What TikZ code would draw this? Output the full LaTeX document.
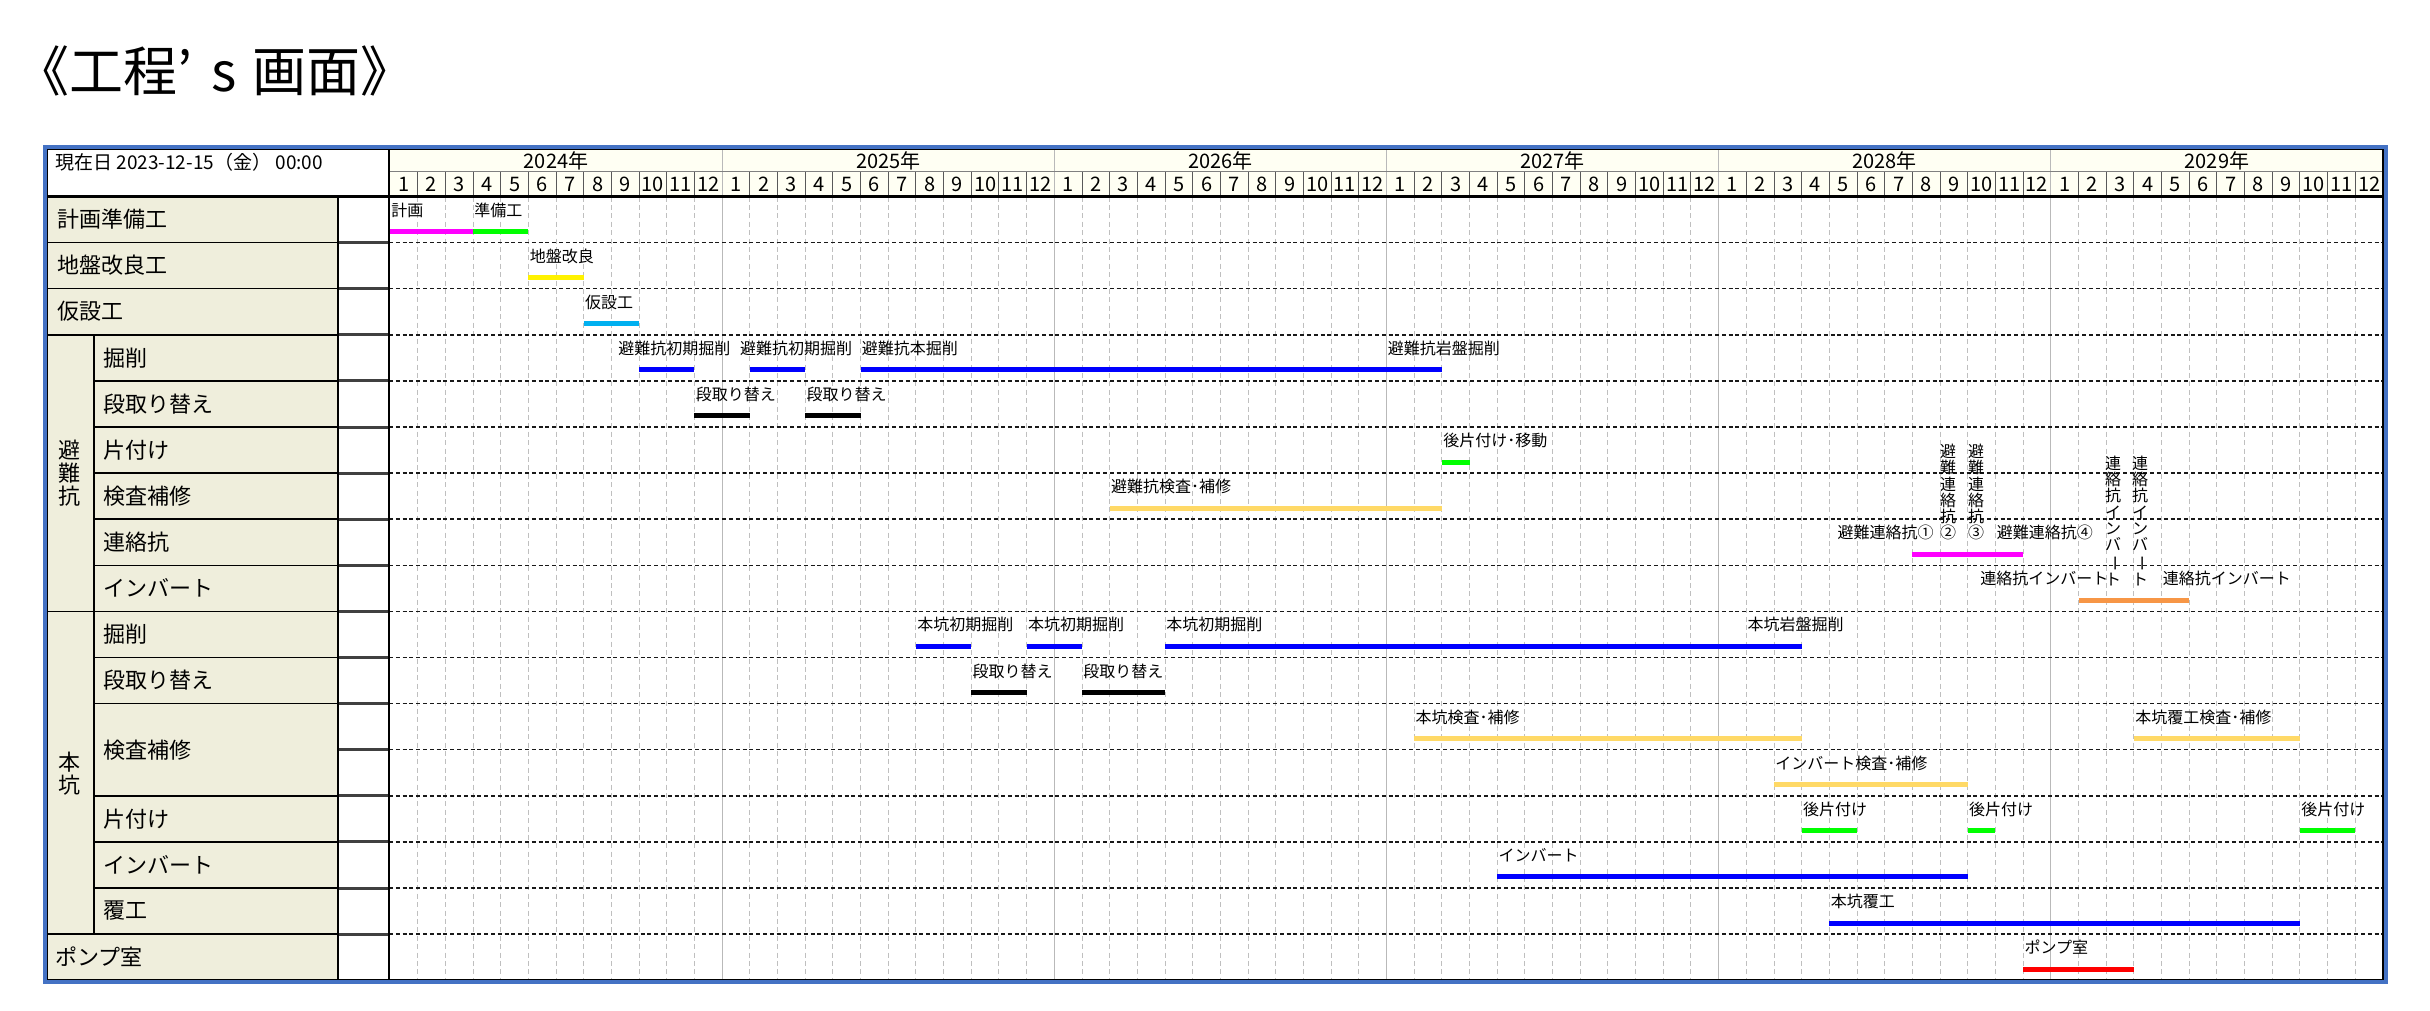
\documentclass[tikz,border=0pt]{standalone}
\usepackage{fontspec}
\setmainfont{Noto Sans CJK JP}
\usepackage{graphicx}
\usepackage{tikz}
\definecolor{framebl}{RGB}{68,114,196}
\definecolor{labelbg}{RGB}{239,238,220}
\definecolor{headbg}{RGB}{255,255,243}
\definecolor{barcyan}{RGB}{0,176,240}
\definecolor{bargold}{RGB}{255,217,102}
\definecolor{barorange}{RGB}{247,150,70}
\definecolor{barlime}{RGB}{0,255,0}
\definecolor{barblue}{RGB}{0,0,255}
\definecolor{barmag}{RGB}{255,0,255}
\newcommand{\vbar}{\rotatebox[origin=c]{-90}{ー}}

\begin{document}
\begin{tikzpicture}[x=0.5pt,y=-0.5pt,
  titlelab/.style={anchor=west,inner sep=0pt,font=\fontsize{27}{30}\selectfont},
  rowlab/.style={anchor=west,inner sep=0pt,font=\fontsize{11}{11.65}\selectfont},
  grouplab/.style={inner sep=0pt,align=center,font=\fontsize{11}{11.65}\selectfont},
  tasklab/.style={anchor=west,inner sep=0pt,font=\fontsize{8}{8.15}\selectfont},
  vlab/.style={anchor=south,inner sep=0pt,align=center,font=\fontsize{8}{8.15}\selectfont},
  headlab/.style={inner sep=0pt,font=\fontsize{10}{11}\selectfont},
  taskbar/.style={line width=2.5pt},
  monthline/.style={gray!50,line width=0.5pt,dash pattern=on 2.5pt off 1.7pt},
  yearline/.style={gray!55,line width=0.6pt},
  rowline/.style={black!90,line width=0.75pt,dash pattern=on 2pt off 1.4pt},
  cellline/.style={black,line width=0.75pt},
  stubline/.style={black!75,line width=1.5pt}]
\useasboundingbox (0,0) rectangle (2430,1011);
\node[titlelab] (title) at (15,71) {《工程’\hspace{0.35em}s\hspace{0.3em}画面》};
\fill[labelbg] (47,196.5) rectangle (338,980);
\fill[white] (338,196.5) rectangle (389,980);
\fill[white] (47,149) rectangle (389,196.5);
\fill[headbg] (389,149) rectangle (2383,196.5);
\foreach \m in {1,...,71}
  \draw[monthline] ({390+27.68*\m},196.5) -- ({390+27.68*\m},980);
\foreach \m in {1,...,71}
  \draw[gray!70!black,line width=0.5pt] ({390+27.68*\m},171.7) -- ({390+27.68*\m},196.5);
\foreach \yr in {1,...,5}
  \draw[yearline] ({390+332.16*\yr},149) -- ({390+332.16*\yr},980);
\draw[gray,line width=0.6pt] (389,171.7) -- (2383,171.7);
\foreach \r in {1,...,16}
  \draw[rowline] (389,{196.5+46.1*\r}) -- (2383,{196.5+46.1*\r});
\foreach \yr [count=\i from 0] in {2024,...,2029}
  \node[headlab] (y\yr) at ({390+332.16*(\i+0.5)},160.5) {\yr 年};
\foreach \m in {0,...,71}{
  \pgfmathtruncatemacro\mn{mod(\m,12)+1}
  \node[headlab] (m\m) at ({390+27.68*(\m+0.5)},184.5) {\mn};
}
\node[headlab,anchor=west,font=\fontsize{9.5}{10}\selectfont] (today) at (55,162.7) {現在日 2023-12-15（金） 00:00};
\foreach \r in {1,2,3,9,16}
  \draw[cellline] (47,{196.5+46.1*\r}) -- (338,{196.5+46.1*\r});
\foreach \r in {4,5,6,7,8,10,11,13,14,15}
  \draw[cellline] (94,{196.5+46.1*\r}) -- (338,{196.5+46.1*\r});
\foreach \r in {1,...,17}
  \draw[stubline] (338,{196.5+46.1*\r}) -- (389,{196.5+46.1*\r});
\draw[cellline] (94,334.8) -- (94,934.1);
\draw[cellline] (338,196.5) -- (338,980);
\draw[black,line width=1.1pt] (47,196.5) -- (2383,196.5);
\draw[black,line width=1pt] (389,149) -- (389,980);
\node[rowlab] (r0) at (57,219.5) {計画準備工};
\node[rowlab] (r1) at (57,265.6) {地盤改良工};
\node[rowlab] (r2) at (57,311.7) {仮設工};
\node[grouplab] (g1) at (69,473.3) {避\\難\\抗};
\foreach \r/\t in {3/掘削,4/段取り替え,5/片付け,6/検査補修,7/連絡抗,8/インバート,9/掘削,10/段取り替え,13/片付け,14/インバート,15/覆工}
  \node[rowlab] (s\r) at (103,{219.5+46.1*\r}) {\t};
\node[rowlab] (s11) at (103,749.7) {検査補修};
\node[grouplab] (g2) at (69,773.5) {本\\坑};
\node[rowlab] (r16) at (55,957.1) {ポンプ室};
\foreach \r/\a/\b/\c in {0/0/3/barmag,0/3/5/barlime,1/5/7/yellow,2/7/9/barcyan,
    3/9/11/barblue,3/13/15/barblue,3/17/38/barblue,4/11/13/black,4/15/17/black,
    5/38/39/barlime,6/26/38/bargold,7/55/59/barmag,8/61/65/barorange,
    9/19/21/barblue,9/23/25/barblue,9/28/51/barblue,10/21/23/black,10/25/28/black,
    11/37/51/bargold,11/63/69/bargold,12/50/57/bargold,
    13/51/53/barlime,13/57/58/barlime,13/69/71/barlime,
    14/40/57/barblue,15/52/69/barblue,16/59/63/red}
  \draw[taskbar,\c] ({390+27.68*\a},{231.5+46.1*\r}) -- ({390+27.68*\b},{231.5+46.1*\r});
\foreach \r/\a/\t [count=\i] in {0/0/計画,0/3/準備工,1/5/地盤改良,2/7/仮設工,
    3/8.2/避難抗初期掘削,3/12.6/避難抗初期掘削,3/17/避難抗本掘削,3/36/避難抗岩盤掘削,
    4/11/段取り替え,4/15/段取り替え,5/38/後片付け･移動,6/26/避難抗検査･補修,
    7/52.25/避難連絡抗①,7/58/避難連絡抗④,8/57.4/連絡抗インバート,8/64/連絡抗インバート,
    9/19/本坑初期掘削,9/23/本坑初期掘削,9/28/本坑初期掘削,9/49/本坑岩盤掘削,
    10/21/段取り替え,10/25/段取り替え,11/37/本坑検査･補修,11/63/本坑覆工検査･補修,
    12/50/インバート検査･補修,13/51/後片付け,13/57/後片付け,13/69/後片付け,
    14/40/インバート,15/52/本坑覆工,16/59/ポンプ室}
  \node[tasklab] (t\i) at ({391+27.68*\a},{210+46.1*\r}) {\t};
\node[vlab] (v2) at (1948,540.7) {避\\難\\連\\絡\\抗\\②};
\node[vlab] (v3) at (1976,540.7) {避\\難\\連\\絡\\抗\\③};
\node[vlab] (v5) at (2113,586.8) {連\\絡\\抗\\イ\\ン\\バ\\\vbar\\ト};
\node[vlab] (v6) at (2140,586.8) {連\\絡\\抗\\イ\\ン\\バ\\\vbar\\ト};
\draw[black,line width=0.6pt] (47,149) rectangle (2383,980);
\draw[framebl,line width=1.75pt] (45,147) rectangle (2386,982);
\end{tikzpicture}
\end{document}
